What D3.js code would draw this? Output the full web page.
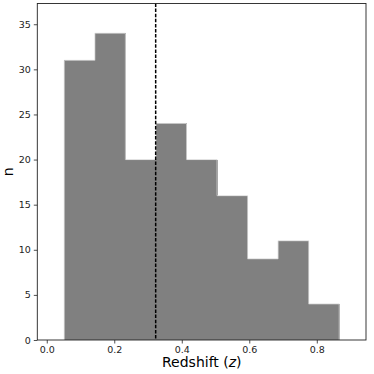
<!DOCTYPE html>
<html>
<head>
<meta charset="utf-8">
<script src="https://cdn.jsdelivr.net/npm/d3@7"></script>
<style>
  body { margin: 0; background: #fff; }
  text { font-family: "DejaVu Sans", sans-serif; }
</style>
</head>
<body>
<div id="chart"></div>
<script>
// HISTOGRAM DATA
const binEdges = [0.052, 0.1425, 0.233, 0.3235, 0.414, 0.5045, 0.595, 0.6855, 0.776, 0.8665];
const counts = [31, 34, 20, 24, 20, 16, 9, 11, 4];
const xTicks = [0.0, 0.2, 0.4, 0.6, 0.8];
const yTicks = [0, 5, 10, 15, 20, 25, 30, 35];
const medianZ = 0.3227;

// MARGIN, WIDTH, HEIGHT
const svgWidth = 374;
const svgHeight = 374;
const margin = { top: 3.5, right: 8, bottom: 34, left: 37.3 };
const width = svgWidth - margin.left - margin.right;
const height = svgHeight - margin.top - margin.bottom;

const svg = d3.select("#chart")
  .append("svg")
  .attr("width", svgWidth)
  .attr("height", svgHeight);

const g = svg.append("g")
  .attr("transform", `translate(${margin.left},${margin.top})`);

// SCALES
const xScale = d3.scaleLinear().domain([-0.028, 0.9458]).range([0, width]);
const yScale = d3.scaleLinear().domain([0, 37.3]).range([height, 0]);

// BARS (filled, no inner edges)
const bins = counts.map((c, i) => ({ x0: binEdges[i], x1: binEdges[i + 1], n: c }));
g.selectAll(".bar")
  .data(bins)
  .enter()
  .append("rect")
  .attr("class", "bar")
  .attr("x", d => xScale(d.x0))
  .attr("y", d => yScale(d.n))
  .attr("width", d => xScale(d.x1) - xScale(d.x0) + 0.6)
  .attr("height", d => yScale(0) - yScale(d.n))
  .attr("shape-rendering", "crispEdges")
  .style("fill", "#808080");

// STEP OUTLINE (light edge like stepfilled)
const stepPts = [[binEdges[0], 0]];
bins.forEach(d => {
  stepPts.push([d.x0, d.n]);
  stepPts.push([d.x1, d.n]);
});
stepPts.push([binEdges[binEdges.length - 1], 0]);
g.append("path")
  .datum(stepPts)
  .attr("d", d3.line().x(d => xScale(d[0])).y(d => yScale(d[1])))
  .style("fill", "none")
  .style("stroke", "#d8d8d8")
  .style("stroke-width", 0.8);

// DASHED LINE
g.append("line")
  .attr("x1", xScale(medianZ))
  .attr("x2", xScale(medianZ))
  .attr("y1", 0)
  .attr("y2", height)
  .style("stroke", "#000")
  .style("stroke-width", 1.5)
  .style("stroke-dasharray", "3.5,1.6");

// AXES
const xAxis = d3.axisBottom(xScale).tickValues(xTicks).tickFormat(d3.format(".1f")).tickSizeOuter(0).tickSize(3.5).tickPadding(3);
const yAxis = d3.axisLeft(yScale).tickValues(yTicks).tickSizeOuter(0).tickSize(3.5).tickPadding(3);

const gx = g.append("g").attr("transform", `translate(0,${height})`).call(xAxis);
const gy = g.append("g").call(yAxis);
[gx, gy].forEach(a => {
  a.select(".domain").remove();
  a.selectAll("text").style("font-size", "9.5px").style("fill", "#222");
  a.selectAll("line").style("stroke", "#222").style("stroke-width", 0.8);
});

// SPINES
g.append("rect")
  .attr("width", width)
  .attr("height", height)
  .style("fill", "none")
  .style("stroke", "#222")
  .style("stroke-width", 0.9);

// LABELS
const xl = svg.append("text")
  .attr("x", margin.left + xScale(0.4593))
  .attr("y", 367)
  .attr("text-anchor", "middle")
  .style("font-size", "14px")
  .style("fill", "#000");
xl.append("tspan").text("Redshift (");
xl.append("tspan").style("font-style", "italic").text("z");
xl.append("tspan").text(")");

svg.append("text")
  .attr("transform", `translate(13,${margin.top + height / 2}) rotate(-90)`)
  .attr("text-anchor", "middle")
  .style("font-size", "14px")
  .style("fill", "#000")
  .text("n");
</script>
</body>
</html>
